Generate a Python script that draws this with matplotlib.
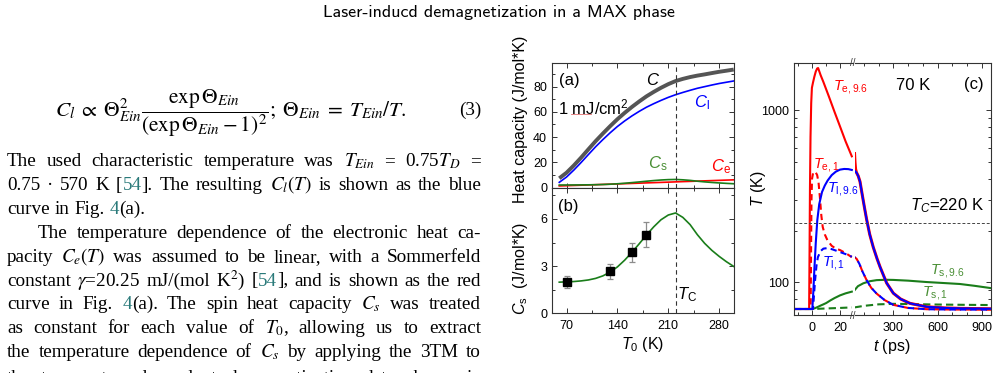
import os
import numpy as np
import matplotlib
matplotlib.use('Agg')
import matplotlib.pyplot as plt
from matplotlib.font_manager import FontProperties
from matplotlib.ticker import MultipleLocator, FixedLocator, FixedFormatter, NullFormatter

plt.rcParams['font.family'] = 'Liberation Sans'
plt.rcParams['mathtext.fontset'] = 'custom'
plt.rcParams['mathtext.rm'] = 'Liberation Sans'
plt.rcParams['mathtext.it'] = 'Liberation Sans:italic'
plt.rcParams['mathtext.bf'] = 'Liberation Sans:bold'
plt.rcParams['mathtext.sf'] = 'Liberation Sans'

# ----------------------------
# data: panel (a) and (b), heat capacities vs T0 (K)
# ----------------------------
T0 = [60, 70, 80, 90, 100, 110, 120, 130, 140, 150, 160, 170, 180,
      190, 200, 210, 220, 230, 240, 250, 260, 270, 280, 290, 300]
C_l = [4.1, 8.3, 13.8, 19.8, 26.1, 32.3, 38.0, 43.4, 48.4, 52.8, 56.8, 60.4, 63.7,
       66.5, 69.1, 71.5, 73.6, 75.4, 77.1, 78.7, 80.0, 81.3, 82.5, 83.5, 84.5]
C_e = [1.22, 1.42, 1.62, 1.82, 2.03, 2.23, 2.43, 2.63, 2.84, 3.04, 3.24, 3.44, 3.65,
       3.85, 4.05, 4.25, 4.46, 4.66, 4.86, 5.06, 5.27, 5.47, 5.67, 5.87, 6.08]
C_s = [1.98, 2.0, 2.02, 2.06, 2.12, 2.22, 2.38, 2.62, 2.95, 3.38, 3.88, 4.42, 4.98,
       5.5, 5.95, 6.25, 6.38, 6.1, 5.64, 5.0, 4.45, 4.0, 3.62, 3.28, 2.98]
T0_pts = [70, 130, 160, 180]
Cs_pts = [1.98, 2.66, 3.87, 5.0]
Cs_err = [0.39, 0.45, 0.62, 0.8]
T_C = 220

# ----------------------------
# data: panel (c), temperatures vs t (ps); _e = before the axis break, _l = after
# ----------------------------
te96_t_e = [-13, -2.3, -2.0, -1.7, -1.3, -0.8, -0.3, 0.5, 1.5, 2.5, 3.5, 4.2, 6, 8, 12, 16, 20, 24, 28.5]
te96_T_e = [70, 70, 150, 350, 700, 1100, 1350, 1450, 1570, 1680, 1750, 1760, 1600, 1460, 1200, 980, 805, 660, 540]
te96_t_l = [37, 40, 44, 50, 62, 74, 90, 105, 119, 140, 164, 190, 210, 255, 300, 350, 413, 527, 650, 753, 965]
te96_T_l = [560, 500, 455, 435, 415, 385, 320, 270, 232, 190, 160, 137, 123, 99, 86.5, 80, 75.5, 72.1, 71, 70.6, 70.2]

te1_t_e = [-13, -1.2, -0.9, -0.6, -0.2, 0.5, 1.5, 2.5, 3.5, 4.5, 5.5, 6.5, 7.5, 9, 11, 14, 17, 20, 24, 28.5]
te1_T_e = [70, 70, 150, 300, 400, 430, 440, 435, 420, 380, 310, 245, 210, 190, 175, 163, 157, 154, 148, 140]

tl96_t_e = [-13, 0, 0.8, 1.5, 2.5, 3.6, 5, 7, 9, 11, 14, 17, 20, 23, 26, 28.5]
tl96_T_e = [70, 70, 90, 120, 170, 230, 285, 335, 365, 390, 420, 440, 452, 456, 455, 450]
tl96_t_l = [37, 50, 62, 74, 90, 105, 119, 140, 164, 190, 210, 255, 300, 350, 413, 527, 650, 753, 965]
tl96_T_l = [445, 435, 415, 385, 320, 270, 232, 190, 160, 137, 123, 99, 86.5, 80, 75.5, 72.1, 71, 70.6, 70.2]

tl1_t_e = [-13, 0.5, 1, 2, 3, 4, 6, 8, 10.5, 14, 18, 22, 26, 28.5]
tl1_T_e = [70, 70, 80, 103, 125, 140, 152, 157, 158, 156, 152, 148, 144, 141]
tl1_t_l = [37, 51, 70, 90, 119, 150, 187, 240, 300, 400, 527, 700, 965]
tl1_T_l = [140, 137, 128, 116, 103, 93, 86, 79, 74, 71, 69.8, 69.5, 69.4]

ts96_t_e = [-13, 0, 2, 4, 6, 8, 10, 13, 16, 20, 24, 28.5]
ts96_T_e = [70, 70, 70.8, 72, 73.3, 74.5, 75.8, 78.5, 81, 84, 86.3, 88.3]
ts96_t_l = [37, 60, 96, 140, 187, 250, 300, 400, 527, 650, 753, 850, 965]
ts96_T_l = [90, 95, 98.7, 101.5, 103, 103.5, 103.3, 102.3, 100.4, 99, 97.8, 95.5, 92.5]

ts1_t_e = [-13, 0, 10, 20, 28.5]
ts1_T_e = [70, 70, 70.5, 71, 71.5]
ts1_t_l = [37, 100, 200, 300, 400, 600, 800, 965]
ts1_T_l = [71.5, 73, 74.5, 75, 74.8, 74.3, 74, 73.8]

# ----------------------------
# page text (left column); @...@ marks reference numbers (teal)
# ----------------------------
body_lines = [
    ("The used characteristic temperature was $T_{Ein}$ = 0.75$T_D$ =", 7, True),
    ("0.75 \u00b7 570 K [@54@]. The resulting $C_l(T)$ is shown as the blue", 7, True),
    ("curve in Fig. @4@(a).", 7, False),
    ("The temperature dependence of the electronic heat ca-", 38, True),
    ("pacity $C_e(T)$ was assumed to be linear, with a Sommerfeld", 7, True),
    ("constant $\\gamma$=20.25 mJ/(mol K$^2$) [@54@], and is shown as the red", 7, True),
    ("curve in Fig. @4@(a). The spin heat capacity $C_s$ was treated", 7, True),
    ("as constant for each value of $T_0$, allowing us to extract", 7, True),
    ("the temperature dependence of $C_s$ by applying the 3TM to", 7, True),
    ("the temperature-dependent demagnetization data shown in", 7, True),
]

W, H = 998, 373
fig = plt.figure(figsize=(W / 100, H / 100), dpi=100)


def P(x, y):
    return x / W, 1 - y / H


def box(l, t, r, b):
    return [l / W, 1 - b / H, (r - l) / W, (b - t) / H]


RED, BLUE, GREEN, GREEN_TXT = '#ff0000', '#0000ff', '#1a7d1a', '#4a8f35'
TEAL = '#2a7a7a'
BODY_FS = 13.8

# title
cmss = FontProperties(fname=os.path.join(matplotlib.get_data_path(), 'fonts', 'ttf', 'cmss10.ttf'), size=13)
fig.text(*P(499, 13), 'Laser-inducd demagnetization in a MAX phase', fontproperties=cmss,
         ha='center', va='center')

# equation
fig.text(*P(55, 116),
         r'$C_l\;\propto\;\Theta^2_{Ein}\dfrac{\exp\Theta_{Ein}}{(\exp\Theta_{Ein}-1)^2};\;\Theta_{Ein}\;=\;T_{Ein}/T.$',
         fontsize=15.4, math_fontfamily='stix', va='baseline', ha='left')
fig.text(*P(481, 115), '(3)', fontsize=BODY_FS, family='Liberation Serif', va='baseline', ha='right')

# justified body text
renderer = fig.canvas.get_renderer()
x_right = 481
space_w = 0.25 * BODY_FS * 100 / 72
for i, (line, x0, justify) in enumerate(body_lines):
    yb = 166 + 23.9 * i + (1.5 if i == len(body_lines) - 1 else 0)
    words = []
    for w in line.split(' '):
        parts = []
        for k, seg in enumerate(w.split('@')):
            if seg == '':
                continue
            t = fig.text(0, 1 - yb / H, seg, fontsize=BODY_FS, family='Liberation Serif',
                         math_fontfamily='stix', va='baseline', ha='left',
                         color=TEAL if k % 2 == 1 else 'black')
            parts.append(t)
        words.append(parts)
    widths = [[p.get_window_extent(renderer).width for p in parts] for parts in words]
    total = sum(sum(ws) for ws in widths)
    gap = (x_right - x0 - total) / (len(words) - 1) if justify else space_w
    x = x0
    for parts, ws in zip(words, widths):
        for p, wd in zip(parts, ws):
            p.set_x(x / W)
            x += wd
        x += gap

# ----------------------------
# panels (a) and (b)
# ----------------------------
TICK_FS = 9
LABEL_FS = 11.5


def style_axes(ax):
    for s in ax.spines.values():
        s.set_linewidth(0.8)
        s.set_color('#333333')
    ax.tick_params(which='both', direction='in', top=True, right=True, labelsize=TICK_FS,
                   width=0.7, color='#333333', pad=3.5)
    ax.tick_params(which='major', length=3.5)
    ax.tick_params(which='minor', length=2)


axa = fig.add_axes(box(552, 62.7, 733.7, 187.5))
axb = fig.add_axes(box(552, 187.5, 733.7, 313.3))

C_tot = np.array(C_l) + np.array(C_e) + np.array(C_s)
axa.plot(T0, C_tot, color='#555555', lw=2.8, solid_capstyle='butt')
axa.plot(T0, C_l, color=BLUE, lw=1.2)
axa.plot(T0, C_e, color=RED, lw=1.2)
axa.plot(T0, C_s, color=GREEN, lw=1.2)
axa.axvline(T_C, color='#333333', lw=0.8, ls=(0, (4, 3)))
axa.set_xlim(50, 300)
axa.set_ylim(0, 99)
axa.xaxis.set_major_locator(FixedLocator([70, 140, 210, 280]))
axa.xaxis.set_minor_locator(MultipleLocator(35))
axa.yaxis.set_major_locator(MultipleLocator(20))
axa.yaxis.set_minor_locator(MultipleLocator(10))
style_axes(axa)
axa.tick_params(labelbottom=False)

axb.plot(T0, C_s, color=GREEN, lw=1.2)
axb.errorbar(T0_pts, Cs_pts, yerr=Cs_err, fmt='s', color='black', ms=6,
             ecolor='#8c8c8c', elinewidth=0.9, capsize=2.2, capthick=0.9, zorder=3)
axb.axvline(T_C, color='#333333', lw=0.8, ls=(0, (4, 3)))
axb.set_xlim(50, 300)
axb.set_ylim(0, 8)
axb.xaxis.set_major_locator(FixedLocator([70, 140, 210, 280]))
axb.xaxis.set_minor_locator(MultipleLocator(35))
axb.yaxis.set_major_locator(MultipleLocator(3))
axb.yaxis.set_minor_locator(MultipleLocator(1.5))
style_axes(axb)
axb.tick_params(axis='x', pad=4.5)

fig.text(*P(521, 119), 'Heat capacity (J/mol*K)', rotation=90, fontsize=LABEL_FS, ha='center', va='center')
fig.text(*P(521, 268), '$C_\\mathrm{s}$  (J/mol*K)', rotation=90, fontsize=LABEL_FS, ha='center', va='center')
fig.text(*P(643, 344), '$T_0$ (K)', fontsize=LABEL_FS, ha='center', va='center')

fig.text(*P(569, 80), '(a)', fontsize=12, ha='center', va='center')
fig.text(*P(653, 80), '$C$', fontsize=12, ha='center', va='center')
fig.text(*P(558, 107), '1 mJ/cm$^2$', fontsize=12, ha='left', va='center')
fig.add_artist(plt.Line2D([571 / W, 591 / W], [1 - 114 / H, 1 - 114 / H], color='#e07070', lw=0.6))
fig.text(*P(702, 103), '$C_\\mathrm{l}$', fontsize=12, color=BLUE, ha='center', va='center')
fig.text(*P(658, 164), '$C_\\mathrm{s}$', fontsize=12, color=GREEN_TXT, ha='center', va='center')
fig.text(*P(721, 167), '$C_\\mathrm{e}$', fontsize=12, color=RED, ha='center', va='center')
fig.text(*P(568, 207), '(b)', fontsize=12, ha='center', va='center')
fig.text(*P(687, 295), '$T_\\mathrm{C}$', fontsize=12, ha='center', va='center')

# ----------------------------
# panel (c): broken time axis
# ----------------------------
axl = fig.add_axes(box(794.3, 63.3, 852.5, 315))
axr = fig.add_axes(box(854.5, 63.3, 991.3, 315), sharey=axl)

# early part
axl.plot(ts1_t_e, ts1_T_e, color=GREEN, lw=1.5, ls=(0, (3.5, 2)))
axl.plot(ts96_t_e, ts96_T_e, color=GREEN, lw=1.5)
axl.plot(te96_t_e, te96_T_e, color=RED, lw=1.5)
axl.plot(te1_t_e, te1_T_e, color=RED, lw=1.5, ls=(0, (3, 2)))
axl.plot(tl96_t_e, tl96_T_e, color=BLUE, lw=1.5)
axl.plot(tl1_t_e, tl1_T_e, color=BLUE, lw=1.5, ls=(2.5, (3, 2)))
# late part (T_e,1 follows T_l,1 here)
axr.plot(ts1_t_l, ts1_T_l, color=GREEN, lw=1.5, ls=(0, (3.5, 2)))
axr.plot(ts96_t_l, ts96_T_l, color=GREEN, lw=1.5)
axr.plot(te96_t_l, te96_T_l, color=RED, lw=2.2)
axr.plot(tl1_t_l, tl1_T_l, color=RED, lw=1.5, ls=(0, (3, 2)))
axr.plot(tl96_t_l, tl96_T_l, color=BLUE, lw=1.5)
axr.plot(tl1_t_l, tl1_T_l, color=BLUE, lw=1.5, ls=(2.5, (3, 2)))

for ax in (axl, axr):
    ax.axhline(T_C, color='#444444', lw=0.7, ls=(0, (3, 2)))
    style_axes(ax)

axl.set_yscale('log')
axl.set_ylim(64.6, 1875)
axl.yaxis.set_major_locator(FixedLocator([100, 1000]))
axl.yaxis.set_major_formatter(FixedFormatter(['100', '1000']))
axl.yaxis.set_minor_locator(FixedLocator([70, 80, 90, 200, 300, 400, 500, 600, 700, 800, 900]))
axl.yaxis.set_minor_formatter(NullFormatter())
axl.set_xlim(-13, 29)
axr.set_xlim(36.7, 965)
axl.xaxis.set_major_locator(FixedLocator([0, 20]))
axl.xaxis.set_minor_locator(FixedLocator([-10, 10]))
axr.xaxis.set_major_locator(FixedLocator([300, 600, 900]))
axr.xaxis.set_minor_locator(MultipleLocator(100))
axl.spines['right'].set_visible(False)
axr.spines['left'].set_visible(False)
axl.tick_params(axis='y', which='both', right=False)
axr.tick_params(axis='y', which='both', left=False, labelleft=False)
axl.tick_params(axis='x', pad=5)
axr.tick_params(axis='x', pad=5)

fig.text(*P(853, 63), '//', fontsize=7, ha='center', va='center', color='#333333')
fig.text(*P(853, 316), '//', fontsize=7, ha='center', va='center', color='#333333')

fig.text(*P(759, 189), '$T$ (K)', rotation=90, fontsize=LABEL_FS, ha='center', va='center')
fig.text(*P(892, 347), '$t$ (ps)', fontsize=LABEL_FS, ha='center', va='center')
fig.text(*P(913, 86), '70 K', fontsize=12, ha='center', va='center')
fig.text(*P(974, 85), '(c)', fontsize=12, ha='center', va='center')
fig.text(*P(850, 87), '$T_\\mathrm{e,9.6}$', fontsize=10.5, color=RED, ha='center', va='center')
fig.text(*P(826, 165), '$T_\\mathrm{e,1}$', fontsize=10.5, color=RED, ha='center', va='center')
fig.text(*P(843, 189), '$T_\\mathrm{l,9.6}$', fontsize=10.5, color=BLUE, ha='center', va='center')
fig.text(*P(833, 263), '$T_\\mathrm{l,1}$', fontsize=10.5, color=BLUE, ha='center', va='center')
fig.text(*P(947, 206), '$T_C$=220 K', fontsize=12, ha='center', va='center')
fig.text(*P(947, 271), '$T_\\mathrm{s,9.6}$', fontsize=10.5, color=GREEN_TXT, ha='center', va='center')
fig.text(*P(935, 293), '$T_\\mathrm{s,1}$', fontsize=10.5, color=GREEN_TXT, ha='center', va='center')

fig.savefig('out.png', dpi=100)
